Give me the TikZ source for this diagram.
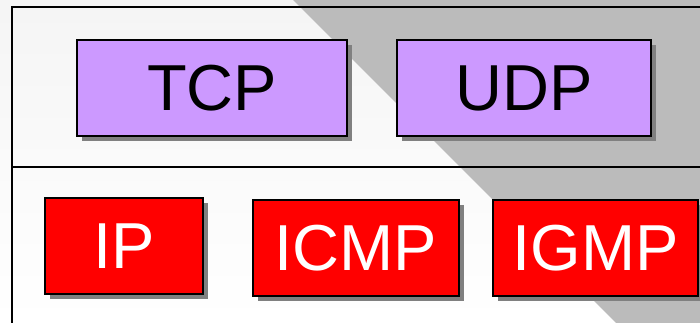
\documentclass[tikz,border=0pt]{standalone}
\usepackage{fontspec}
\setmainfont{Liberation Sans}
\usetikzlibrary{shadows}
\definecolor{bandgray}{HTML}{BBBBBB}
\definecolor{shadowgray}{HTML}{808080}
\definecolor{tcpviolet}{HTML}{CC99FF}
\definecolor{ipred}{HTML}{FF0000}
\tikzset{
  layerbox/.style={draw=black, line width=2pt, inner sep=0pt,
    drop shadow={shadow xshift=5pt, shadow yshift=-5pt, fill=shadowgray, opacity=1},
    font=\fontsize{65}{78}\selectfont},
  upperbox/.style={layerbox, fill=tcpviolet, text=black},
  lowerbox/.style={layerbox, fill=ipred, text=white},
  frameline/.style={line width=2pt, draw=black}
}
\begin{document}
\begin{tikzpicture}[x=1pt, y=-1pt]
  \useasboundingbox (0,0) rectangle (700,323);
  \clip (0,0) rectangle (700,323);
  \shade[top color=black!4, bottom color=white] (0,0) rectangle (700,323);
  \fill[bandgray] (293,0) -- (700,0) -- (700,323) -- (616,323) -- cycle;
  \draw[frameline] (12,323) -- (12,7) -- (700,7);
  \draw[frameline] (12,167) -- (700,167);
  \node[upperbox, minimum width=270pt, minimum height=96pt] (tcp) at (212,88) {TCP};
  \node[upperbox, minimum width=254pt, minimum height=96pt] (udp) at (524,88) {UDP};
  \node[lowerbox, minimum width=158pt, minimum height=96pt] (ip) at (124,246) {IP};
  \node[lowerbox, minimum width=206pt, minimum height=96pt] (icmp) at (356,248) {ICMP};
  \node[lowerbox, minimum width=205pt, minimum height=96pt] (igmp) at (595.5,248) {IGMP};
\end{tikzpicture}
\end{document}
